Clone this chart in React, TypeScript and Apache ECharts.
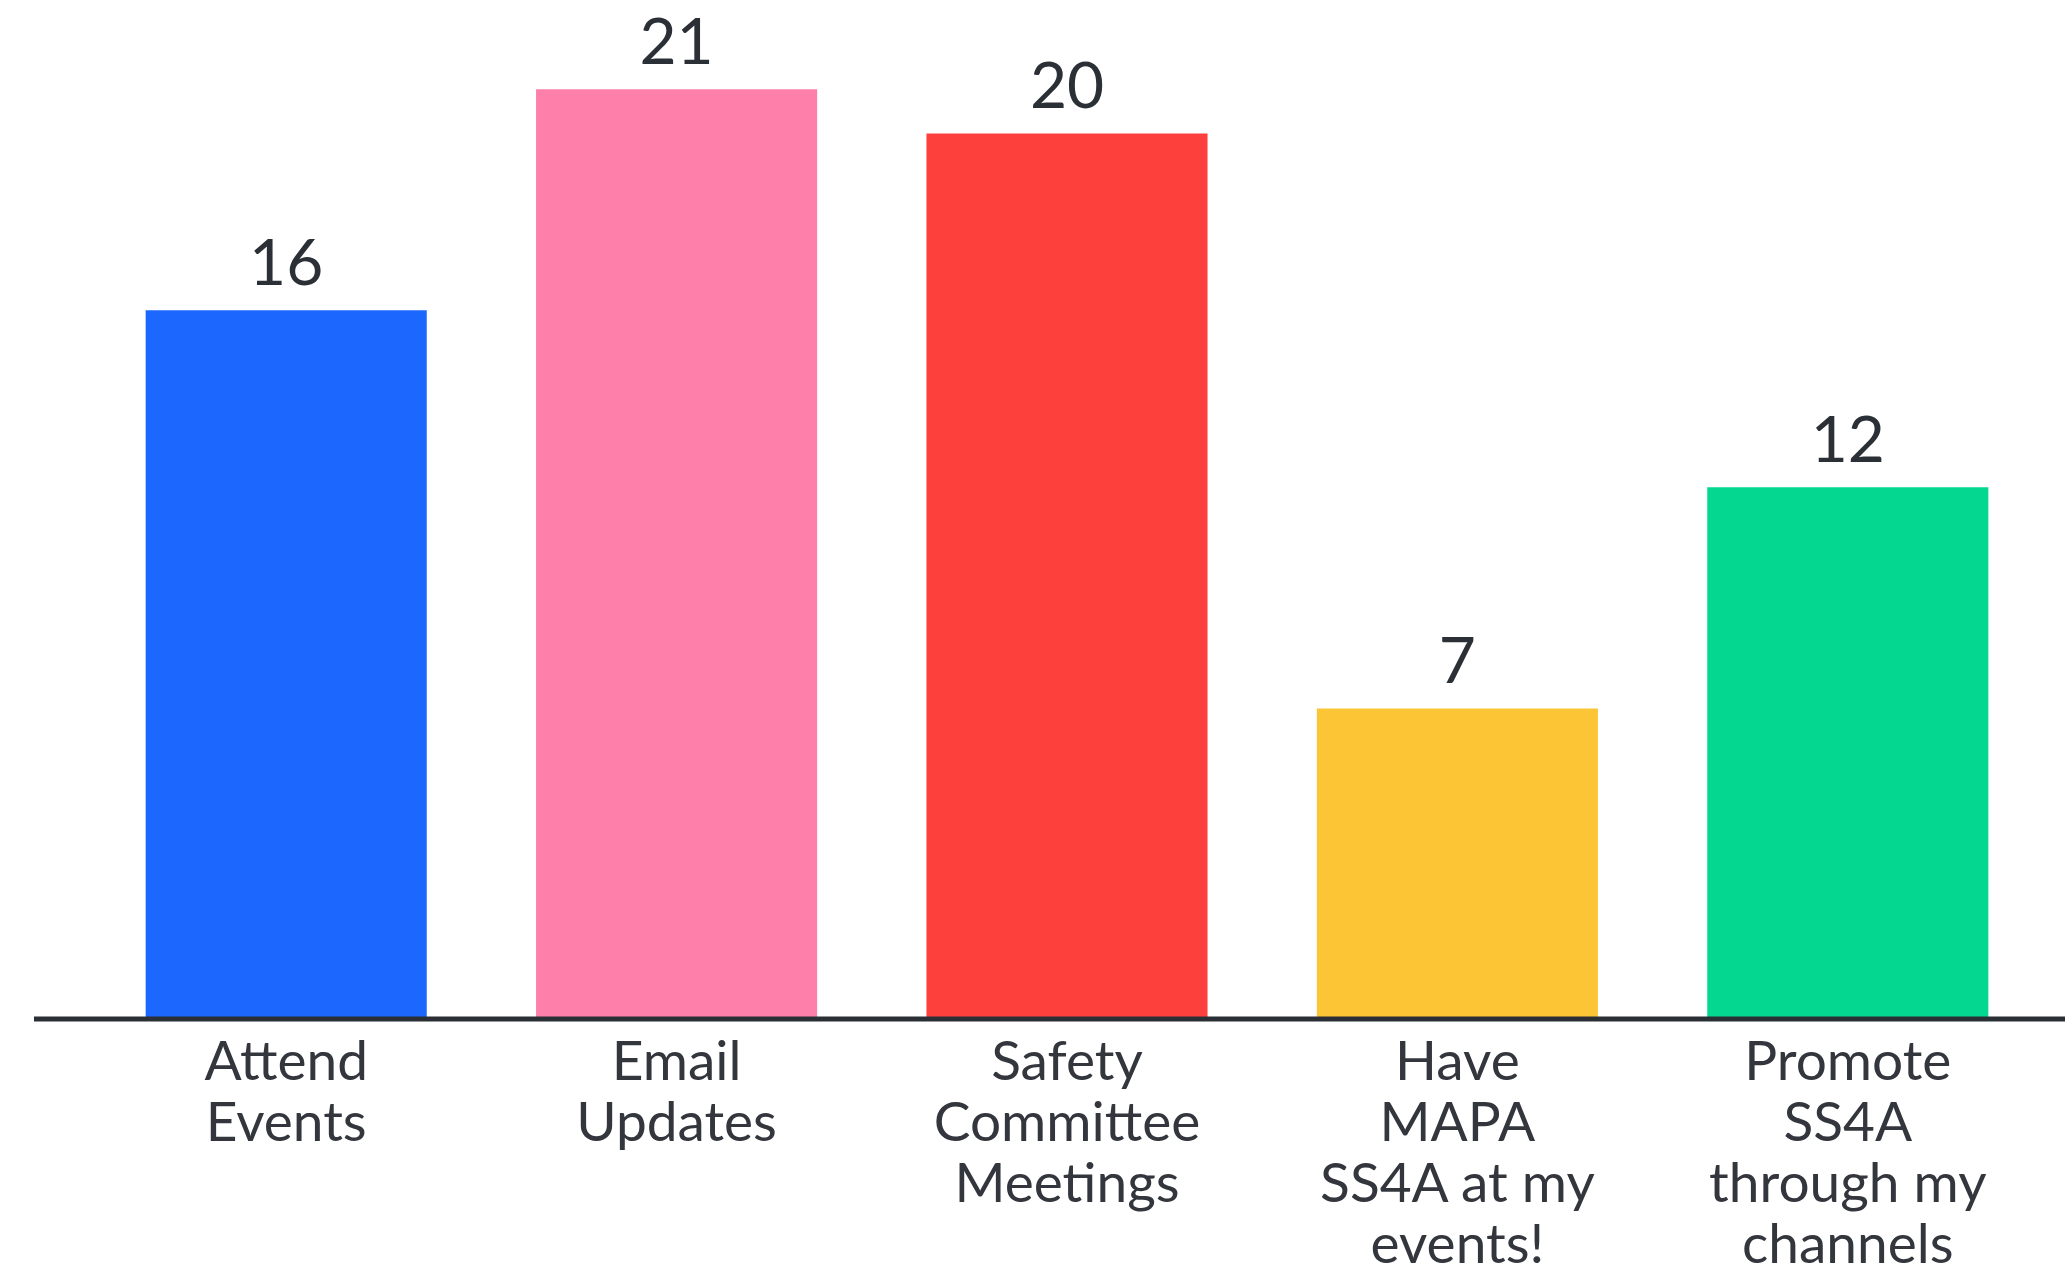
import React, { useEffect, useRef } from "react";
import * as echarts from "echarts";

const categories = [
  "Attend\nEvents",
  "Email\nUpdates",
  "Safety\nCommittee\nMeetings",
  "Have\nMAPA\nSS4A at my\nevents!",
  "Promote\nSS4A\nthrough my\nchannels",
];
const values = [16, 21, 20, 7, 12];
const colors = ["#1c67fd", "#fd7faa", "#fd403c", "#fcc536", "#04d790"];

const W = 2065;
const H = 1269;
const GRID_LEFT = 91;
const GRID_RIGHT = 22;
const GRID_TOP = 45;
const GRID_BOTTOM = H - 1018;

export default function App() {
  const ref = useRef<HTMLDivElement>(null);
  useEffect(() => {
    if (!ref.current) return;
    const chart = echarts.init(ref.current, null, { renderer: "svg" });
    chart.setOption({
      animation: false,
      backgroundColor: "#ffffff",
      grid: {
        left: GRID_LEFT,
        right: GRID_RIGHT,
        top: GRID_TOP,
        bottom: GRID_BOTTOM,
        containLabel: false,
        outerBoundsMode: "none",
      },
      xAxis: {
        type: "category",
        data: categories,
        axisLine: { show: false },
        axisTick: { show: false },
        axisLabel: {
          interval: 0,
          margin: 10,
          fontFamily: "Lato",
          fontSize: 55,
          lineHeight: 61,
          color: "#33373d",
          align: "center",
          verticalAlign: "top",
        },
      },
      yAxis: {
        type: "value",
        min: 0,
        max: 22,
        show: false,
        splitLine: { show: false },
      },
      series: [
        {
          type: "bar",
          data: values.map((v, i) => ({ value: v, itemStyle: { color: colors[i] } })),
          barWidth: "72%",
          label: {
            show: true,
            position: "top",
            distance: 18,
            fontFamily: "Lato",
            fontSize: 64,
            color: "#2b2f36",
          },
        },
      ],
      graphic: [
        {
          type: "line",
          shape: { x1: 34, y1: H - GRID_BOTTOM + 1, x2: W, y2: H - GRID_BOTTOM + 1 },
          style: { stroke: "#2a2e35", lineWidth: 5 },
          z: 10,
        },
      ],
    });
    return () => chart.dispose();
  }, []);
  return (
    <div
      ref={ref}
      style={{ position: "absolute", left: 0, top: 0, width: W, height: H }}
    />
  );
}
